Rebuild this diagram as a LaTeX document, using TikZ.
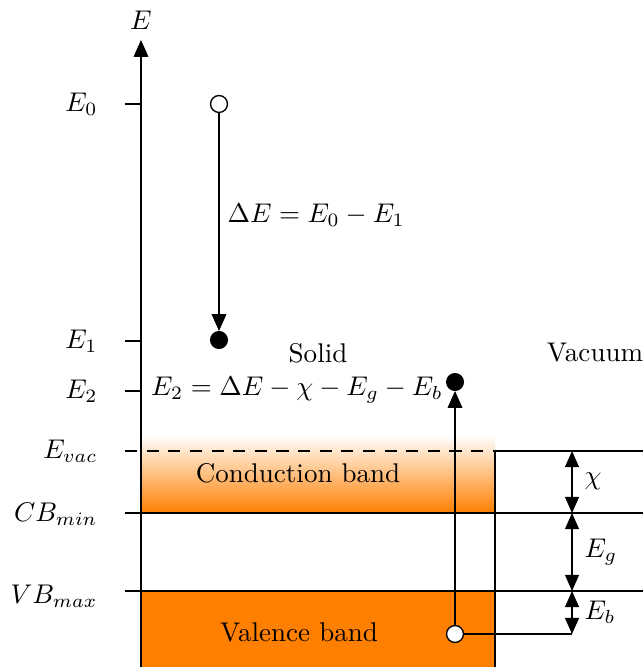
\documentclass[tikz,border=0pt]{standalone}
\usetikzlibrary{arrows.meta}
\begin{document}
\begin{tikzpicture}[x=0.013cm,y=-0.013cm,
  tip/.style={-{Triangle[length=6.2pt,width=5.4pt]}},
  dtip/.style={{Triangle[length=6pt,width=5.2pt]}-{Triangle[length=6pt,width=5.2pt]}},
  opendot/.style={circle,draw,fill=white,inner sep=0pt,minimum size=0.22cm,line width=0.5pt},
  fulldot/.style={circle,draw,fill=black,inner sep=0pt,minimum size=0.22cm},
  lbl/.style={anchor=east,inner sep=0pt},
  thinline/.style={line width=0.45pt}]
\useasboundingbox (0,0) rectangle (643,667);
% bands
\shade[top color=white,bottom color=orange] (141,435) rectangle (495,513);
\fill[orange] (141,591) rectangle (495,667);
% coordinates
\coordinate (axb) at (141,667);
\coordinate (axt) at (141,40);
\coordinate (t0a) at (125,104); \coordinate (t0b) at (141,104);
\coordinate (t1a) at (125,341); \coordinate (t1b) at (141,341);
\coordinate (t2a) at (125,391); \coordinate (t2b) at (141,391);
\coordinate (tva) at (125,451); \coordinate (tvb) at (495,451); \coordinate (tvc) at (643,451);
\coordinate (tca) at (125,513); \coordinate (tcc) at (643,513);
\coordinate (tba) at (125,591); \coordinate (tbc) at (643,591);
\coordinate (surfb) at (495,667);
\coordinate (d0) at (572,451); \coordinate (d1) at (572,513);
\coordinate (d2) at (572,591); \coordinate (d3) at (572,634);
% lines
\draw[thinline,tip] (axb) -- (axt);
\draw[thinline] (t0a) -- (t0b);
\draw[thinline] (t1a) -- (t1b);
\draw[thinline] (t2a) -- (t2b);
\draw[thinline,dashed,dash pattern=on 4.5pt off 3.5pt] (tva) -- (tvb);
\draw[thinline] (tvb) -- (tvc);
\draw[thinline] (tca) -- (tcc);
\draw[thinline] (tba) -- (tbc);
\draw[thinline] (tvb) -- (surfb);
% dots
\node[opendot] (o0) at (219,104) {};
\node[fulldot] (f1) at (219,340) {};
\node[fulldot] (f2) at (455,382) {};
\node[opendot] (ob) at (455,634) {};
\draw[thinline,tip] (o0) -- (f1);
\draw[thinline,tip] (ob) -- (f2);
\draw[thinline] (ob) -- (d3);
\draw[thinline,dtip] (d0) -- (d1);
\draw[thinline,dtip] (d1) -- (d2);
\draw[thinline,dtip] (d2) -- (d3);
% labels
\node (lE) at (141,20) {$E$};
\node[lbl] (l0) at (98,104) {$E_0$};
\node[lbl] (l1) at (98,341) {$E_1$};
\node[lbl] (l2) at (98,391) {$E_2$};
\node[lbl] (lv) at (98,451) {$E_{vac}$};
\node[lbl] (lc) at (98,514) {$CB_{min}$};
\node[lbl] (lb) at (98,596) {$VB_{max}$};
\node[anchor=west,inner sep=0pt] (dE) at (227,215) {$\Delta E = E_0 - E_1$};
\node (sol) at (318,353) {Solid};
\node (vac) at (595,353) {Vacuum};
\node (e2) at (297,390) {$E_2 = \Delta E - \chi - E_g - E_b$};
\node (cb) at (298,473) {Conduction band};
\node (vb) at (299,632) {Valence band};
\node[anchor=west,inner sep=0pt] (lchi) at (584,481) {$\chi$};
\node[anchor=west,inner sep=0pt] (lg) at (584,552) {$E_g$};
\node[anchor=west,inner sep=0pt] (lbb) at (584,612) {$E_b$};
\end{tikzpicture}
\end{document}
